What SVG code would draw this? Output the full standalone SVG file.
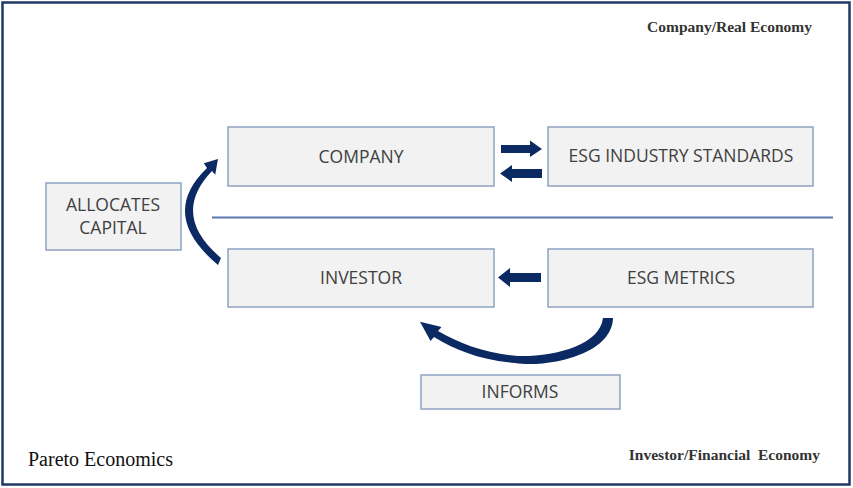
<svg xmlns="http://www.w3.org/2000/svg" width="853" height="488" viewBox="0 0 853 488">
<style>
.box{fill:#F2F2F2;stroke:#8FA2C4;stroke-width:1.5}
.lbl{font-family:"Open Sans","Noto Sans",sans-serif;font-size:17.5px;fill:#404040;text-anchor:middle}
.arr{fill:#0B2A63}
.ttl{font-family:"Liberation Serif",serif;font-weight:bold;font-size:15.5px;fill:#333333;text-anchor:end}
</style>
<rect x="0" y="0" width="853" height="488" fill="#ffffff"/>
<rect x="2.5" y="2.5" width="847" height="482" fill="none" stroke="#1F3864" stroke-width="2.5"/>
<text class="ttl" x="812" y="32">Company/Real Economy</text>
<text class="ttl" x="820" y="460" xml:space="preserve">Investor/Financial  Economy</text>
<text x="28" y="466" font-family="Liberation Serif,serif" font-size="20" fill="#111111">Pareto Economics</text>
<g id="connectors">
<line x1="212" y1="217.5" x2="833" y2="217.5" stroke="#5B79B0" stroke-width="2"/>
<path class="arr" d="M501,145 L530,145 L530,140.5 L542,149 L530,157 L530,153 L501,153 Z"/>
<path class="arr" d="M542,169 L512,169 L512,165 L500,173.5 L512,182 L512,178 L542,178 Z"/>
<path class="arr" d="M541,273 L510,273 L510,268 L498,277.5 L510,287 L510,282 L541,282 Z"/>
<path class="arr" d="M218,265 Q158,215 207,168 L203.8,163.3 L218,159 L215.2,174.7 L212,171 Q170,215 221,258 Z"/>
<path class="arr" d="M613,318 C612,356 545,368 515,363 C480,360 455,350 434,337 L430.5,341.1 L420,321.8 L441.5,326.9 L438,331 C460,344 488,354 518,356 C555,357 600,345 603,318 Z"/>
</g>
<g id="company"><rect class="box" x="228" y="127" width="266" height="59"/><text class="lbl" x="361" y="163">COMPANY</text></g>
<g id="esg-standards"><rect class="box" x="548" y="127" width="265" height="59"/><text class="lbl" x="681" y="162">ESG INDUSTRY STANDARDS</text></g>
<g id="investor"><rect class="box" x="228" y="249" width="266" height="58"/><text class="lbl" x="361" y="284">INVESTOR</text></g>
<g id="esg-metrics"><rect class="box" x="548" y="249" width="265" height="58"/><text class="lbl" x="681" y="284">ESG METRICS</text></g>
<g id="allocates"><rect class="box" x="46" y="183" width="135" height="67"/><text class="lbl" x="113" y="211">ALLOCATES</text><text class="lbl" x="113" y="234">CAPITAL</text></g>
<g id="informs"><rect class="box" x="421" y="375" width="199" height="34"/><text class="lbl" x="520" y="398">INFORMS</text></g>
</svg>
